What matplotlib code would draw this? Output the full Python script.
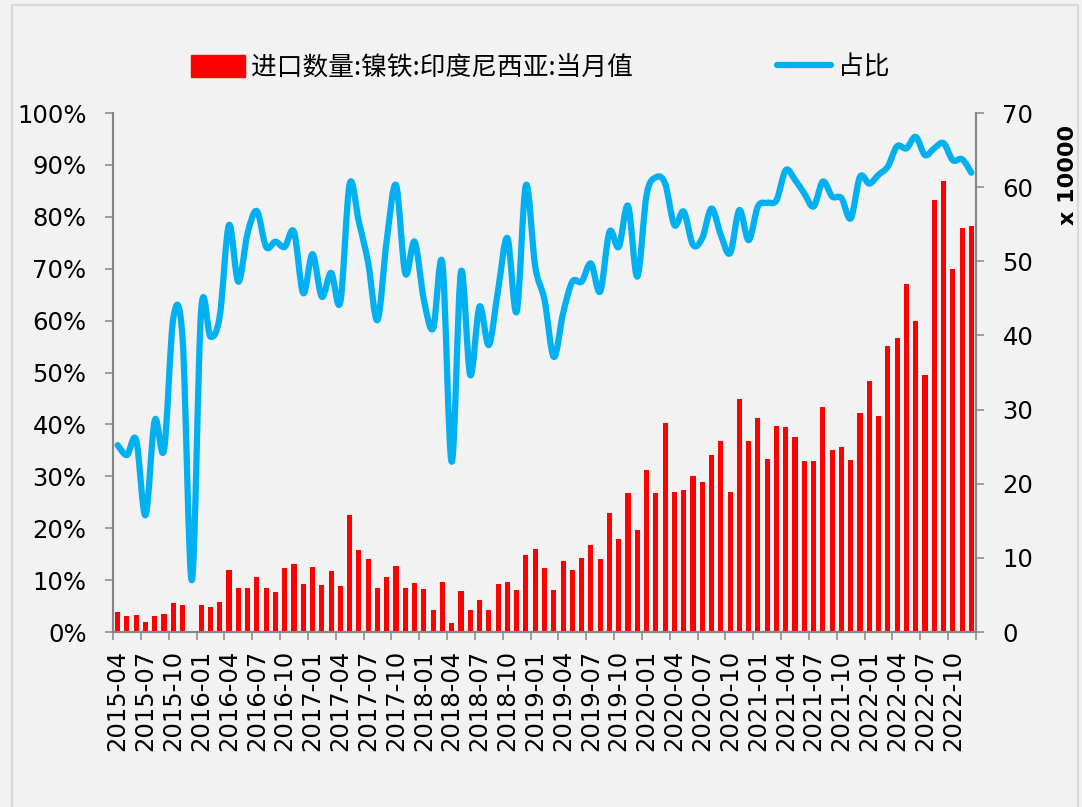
import numpy as np
import pandas as pd
import matplotlib
matplotlib.use("Agg")
import matplotlib.pyplot as plt
from matplotlib.path import Path
from matplotlib.patches import PathPatch, Rectangle
from matplotlib.lines import Line2D

plt.rcParams['font.family'] = ['DejaVu Sans', 'Noto Sans CJK SC']

# monthly data 2015-04 .. 2022-12
months = pd.date_range('2015-04-01', '2022-12-01', freq='MS').strftime('%Y-%m').tolist()

# 进口数量 (x 10000 吨)
imports = [2.7, 2.1, 2.3, 1.35, 2.2, 2.4, 3.9, 3.6, 0.2, 3.7,
           3.4, 4.1, 8.4, 6.0, 6.0, 7.4, 6.0, 5.4, 8.6, 9.2,
           6.5, 8.8, 6.3, 8.2, 6.2, 15.8, 11.1, 9.8, 5.9, 7.4,
           8.9, 5.9, 6.6, 5.8, 2.9, 6.8, 1.2, 5.5, 2.9, 4.3,
           3.0, 6.5, 6.8, 5.7, 10.4, 11.2, 8.6, 5.7, 9.6, 8.4,
           10.0, 11.7, 9.9, 16.0, 12.5, 18.8, 13.7, 21.8, 18.7, 28.2,
           18.9, 19.2, 21.0, 20.2, 23.9, 25.8, 18.9, 31.4, 25.7, 28.9,
           23.4, 27.8, 27.7, 26.3, 23.1, 23.0, 30.4, 24.5, 25.0, 23.2,
           29.5, 33.8, 29.1, 38.6, 39.6, 47.0, 42.0, 34.6, 58.3, 60.8,
           48.9, 54.5, 54.8]

# 占比 (%)
share = [36.0, 34.1, 37.0, 22.5, 40.8, 35.1, 60.5, 56.5, 10.0, 62.0,
         56.9, 60.8, 78.4, 67.5, 76.8, 81.1, 74.2, 75.2, 74.2, 77.1,
         65.3, 72.8, 64.6, 69.2, 63.6, 86.3, 79.0, 71.1, 60.1, 75.5,
         86.1, 69.1, 75.2, 64.0, 58.5, 71.0, 32.8, 69.4, 49.5, 62.7,
         55.3, 65.9, 75.9, 61.7, 86.1, 70.4, 64.0, 53.0, 61.4, 67.5,
         67.5, 71.0, 65.6, 77.1, 74.2, 82.1, 68.5, 84.2, 87.6, 86.4,
         78.4, 81.0, 74.6, 75.9, 81.6, 76.5, 73.0, 81.3, 75.5, 82.0,
         82.7, 83.2, 89.0, 87.1, 84.5, 82.0, 86.8, 83.9, 83.6, 79.7,
         87.7, 86.4, 88.1, 89.7, 93.6, 93.2, 95.4, 91.9, 93.2, 94.2,
         90.9, 91.1, 88.5]

bar_label = '进口数量:镍铁:印度尼西亚:当月值'
line_label = '占比'
red = '#ff0000'
blue = '#00b0f0'
grey = '#868686'
bg = '#f2f2f2'


def smooth_path(xs, ys, t=1/6):
    # excel style smoothed line: cubic bezier through every point
    pts = np.column_stack([xs, ys])
    p = np.vstack([pts[0], pts, pts[-1]])
    verts = [pts[0]]
    codes = [Path.MOVETO]
    for i in range(1, len(p) - 2):
        c1 = p[i] + (p[i + 1] - p[i - 1]) * t
        c2 = p[i + 1] - (p[i + 2] - p[i]) * t
        verts += [c1, c2, p[i + 1]]
        codes += [Path.CURVE4] * 3
    return Path(verts, codes)


fig = plt.figure(figsize=(10.82, 8.07), dpi=100, facecolor=bg)
ax = fig.add_axes([113/1082, 1 - 632/807, (976 - 113)/1082, (632 - 113)/807])
ax2 = ax.twinx()

x = np.arange(len(months))
ax2.bar(x, imports, width=0.55, color=red, zorder=2)

ax.add_patch(PathPatch(smooth_path(x, share), facecolor='none', edgecolor=blue,
                       lw=4.5, capstyle='round', joinstyle='round', zorder=3))

ax.set_zorder(ax2.get_zorder() + 1)
ax.patch.set_visible(False)
ax2.patch.set_visible(False)

ax.set_xlim(-0.5, len(months) - 0.5)
ax.set_ylim(0, 100)
ax2.set_ylim(0, 70)

ax.set_yticks(np.arange(0, 101, 10))
ax.set_yticklabels([f'{v}%' for v in range(0, 101, 10)])
ax2.set_yticks(np.arange(0, 71, 10))

ax.set_xticks(x[::3])
ax.set_xticklabels(months[::3], rotation=90)
ax.set_xticks(np.arange(-0.5, len(months), 3), minor=True)
ax.tick_params(axis='x', which='major', length=0, pad=13, labelsize=17.5)
ax.tick_params(axis='x', which='minor', length=6, width=1.1, color=grey)
ax.tick_params(axis='y', length=6, width=1.1, color=grey, pad=13, labelsize=17.5)
ax2.tick_params(axis='y', length=6, width=1.1, color=grey, pad=13, labelsize=17.5)

for a in (ax, ax2):
    a.spines['top'].set_visible(False)
    for s in ('left', 'right', 'bottom'):
        a.spines[s].set_color(grey)
        a.spines[s].set_linewidth(1.5)

fig.text(1068/1082, 1 - 175/807, 'x 10000', rotation=90, ha='center', va='center',
         fontsize=16, fontweight='bold')

handles = [Rectangle((0, 0), 1, 1, color=red),
           Line2D([], [], color=blue, lw=4.5, solid_capstyle='round')]
fig.legend(handles, [bar_label, line_label], loc='center', ncol=2,
           bbox_to_anchor=(540/1082, 1 - 68/807), frameon=False,
           prop={'family': ['Noto Sans CJK SC', 'DejaVu Sans'], 'size': 18.5},
           handlelength=2.1, handleheight=0.95, handletextpad=0.25, columnspacing=5.6)

# outer chart frame
fig.patches.append(Rectangle((12/1082, -0.01), 1066/1082, 1 - 5/807 + 0.01,
                             transform=fig.transFigure, fill=False,
                             edgecolor='#d9d9d9', lw=1.5))

fig.savefig('out.png', dpi=100, facecolor=bg)
